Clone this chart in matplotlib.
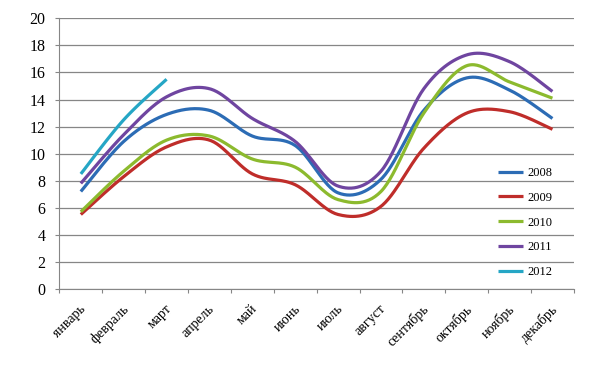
import numpy as np
import matplotlib
matplotlib.use('Agg')
import matplotlib.pyplot as plt
from matplotlib.transforms import ScaledTranslation

plt.rcParams['font.family'] = ['Liberation Serif', 'DejaVu Serif']

months = ['январь', 'февраль', 'март', 'апрель', 'май', 'июнь', 'июль',
          'август', 'сентябрь', 'октябрь', 'ноябрь', 'декабрь']
years = ['2008', '2009', '2010', '2011', '2012']
t2008 = [7.2, 10.9, 12.9, 13.2, 11.3, 10.6, 7.1, 8.1, 13.2, 15.6, 14.7, 12.6]
t2009 = [5.5, 8.3, 10.5, 11.0, 8.5, 7.7, 5.5, 6.1, 10.4, 13.0, 13.1, 11.8]
t2010 = [5.7, 8.7, 11.0, 11.3, 9.6, 9.0, 6.6, 7.2, 13.0, 16.5, 15.3, 14.1]
t2011 = [7.8, 11.4, 14.2, 14.8, 12.6, 10.9, 7.6, 8.7, 14.8, 17.3, 16.8, 14.6]
t2012 = [8.5, 12.5, 15.5]
series = [t2008, t2009, t2010, t2011, t2012]
colors = ['#2C6CB5', '#BF2D2A', '#8CBA2E', '#6F45A0', '#25A6C5']


def smooth(y, n=30):
    # excel-like bezier smoothing through the points
    y = np.asarray(y, float)
    x = np.arange(len(y), dtype=float)
    pts = np.column_stack([x, y])
    if len(pts) < 3:
        return x, y
    out = []
    for i in range(len(pts) - 1):
        p0 = pts[max(i - 1, 0)]
        p1 = pts[i]
        p2 = pts[i + 1]
        p3 = pts[min(i + 2, len(pts) - 1)]
        c1 = p1 + (p2 - p0) / 6
        c2 = p2 - (p3 - p1) / 6
        t = np.linspace(0, 1, n)[:, None]
        seg = ((1 - t) ** 3) * p1 + 3 * ((1 - t) ** 2) * t * c1 + 3 * (1 - t) * t ** 2 * c2 + t ** 3 * p2
        out.append(seg if i == 0 else seg[1:])
    out = np.vstack(out)
    return out[:, 0], out[:, 1]


fig = plt.figure(figsize=(6.06, 3.68), dpi=100)
ax = fig.add_axes([0.098, 0.215, 0.849, 0.735])

for name, vals, c in zip(years, series, colors):
    xs, ys = smooth(vals)
    ax.plot(xs, ys, color=c, lw=2.3, label=name, solid_capstyle='butt')

ax.set_xlim(-0.5, 11.5)
ax.set_ylim(0, 20)
ax.set_yticks(range(0, 21, 2))
ax.yaxis.grid(True, color='#868686', lw=0.9)
ax.set_axisbelow(True)
ax.set_xticks(np.arange(-0.5, 12, 1))
ax.set_xticklabels([])
ax.set_xticks(np.arange(12), minor=True)
ax.set_xticklabels(months, minor=True, rotation=45, ha='right', va='center',
                   rotation_mode='anchor', fontsize=10)
ax.tick_params(axis='x', which='minor', length=0, pad=13)
ax.tick_params(axis='x', which='major', length=3, color='#868686')
ax.tick_params(axis='y', length=3, color='#868686', labelsize=11.5, pad=7)
shift = ScaledTranslation(3 / 100, 0, fig.dpi_scale_trans)
for lbl in ax.get_xticklabels(minor=True):
    lbl.set_transform(lbl.get_transform() + shift)

for s in ['top', 'right']:
    ax.spines[s].set_visible(False)
for s in ['left', 'bottom']:
    ax.spines[s].set_color('#868686')

leg = ax.legend(loc='upper left', bbox_to_anchor=(0.843, 0.469), frameon=False,
                fontsize=9, handlelength=2.0, handletextpad=0.32, labelspacing=1.02,
                borderaxespad=0)

fig.savefig('out.png', dpi=100)
